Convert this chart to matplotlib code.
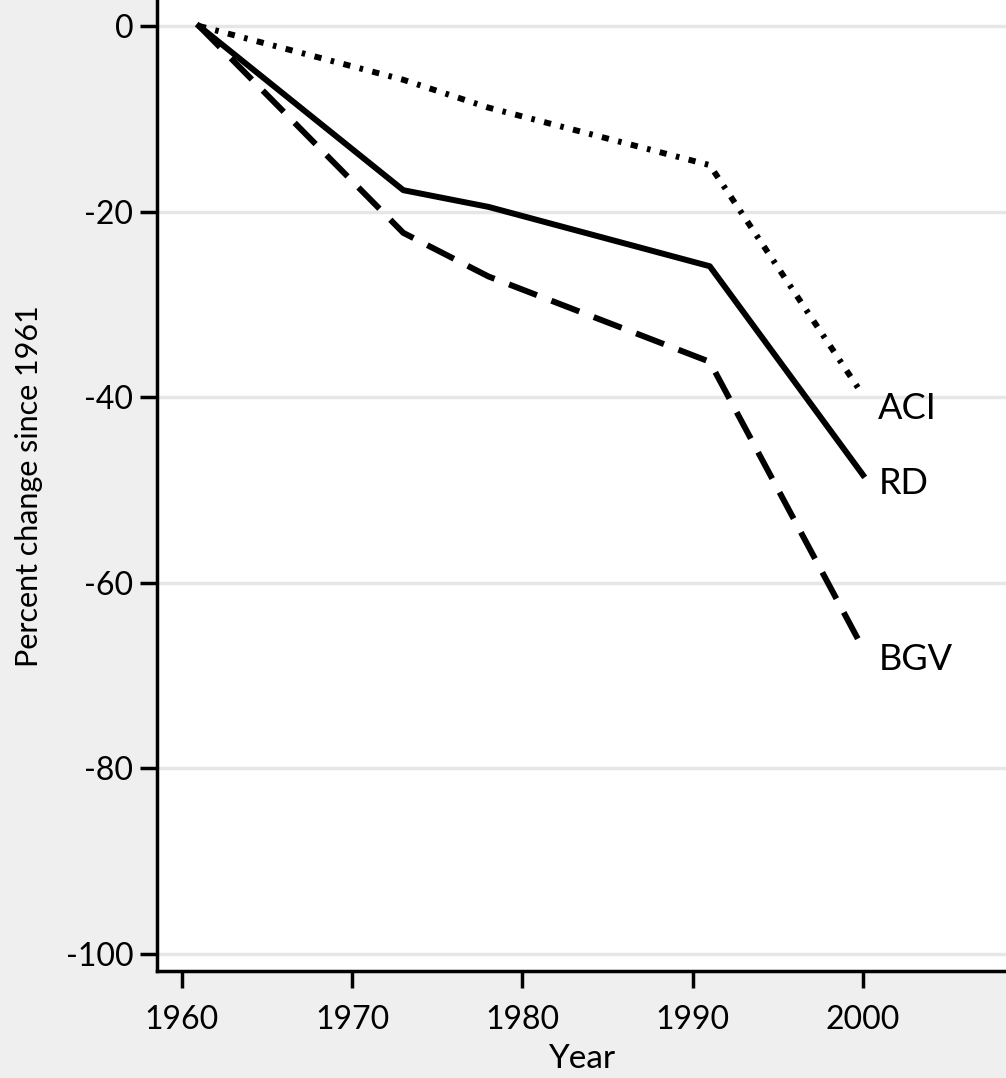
import matplotlib.pyplot as plt

years = [1961, 1973, 1978, 1991, 2000]
rd = [0, -17.7, -19.5, -25.9, -48.4]
bgv = [0, -22.3, -27.0, -36.2, -67.1]
aci = [0, -5.8, -8.8, -15.0, -39.8]

labels = ["ACI", "RD", "BGV"]
label_y = [-41.2, -49.3, -68.3]

plt.rcParams["font.family"] = ["Lato", "DejaVu Sans"]
plt.rcParams["axes.unicode_minus"] = False

fig = plt.figure(figsize=(10.06, 10.78), dpi=100, facecolor="#efefef")
ax = fig.add_axes([0.156, 0.099, 0.844, 0.901])
ax.set_facecolor("white")

ax.plot(years, rd, color="black", lw=4.3)
ax.plot(years, bgv, color="black", lw=4.3, linestyle=(0, (5, 2.6)))
ax.plot(years, aci, color="black", lw=4.3, linestyle=(0, (1.2, 1.6, 0.6, 1.6)))

for lab, yv in zip(labels, label_y):
    ax.text(2000.9, yv, lab, fontsize=26, va="center", ha="left")

ax.set_xlim(1958.53, 2008.4)
ax.set_ylim(-101.9, 2.8)
ax.set_xticks([1960, 1970, 1980, 1990, 2000])
ax.set_yticks([0, -20, -40, -60, -80, -100])
ax.yaxis.grid(True, color="#e6e6e6", lw=2.5)
ax.set_axisbelow(True)

for s in ["top", "right"]:
    ax.spines[s].set_visible(False)
for s in ["left", "bottom"]:
    ax.spines[s].set_linewidth(2.5)

ax.tick_params(axis="both", length=12, width=2.5, labelsize=23, pad=5)
ax.tick_params(axis="x", pad=12)

ax.set_xlabel("Year", fontsize=24, labelpad=7)
ax.set_ylabel("Percent change since 1961", fontsize=22, labelpad=16)

fig.savefig("out.png", dpi=100, facecolor=fig.get_facecolor())
